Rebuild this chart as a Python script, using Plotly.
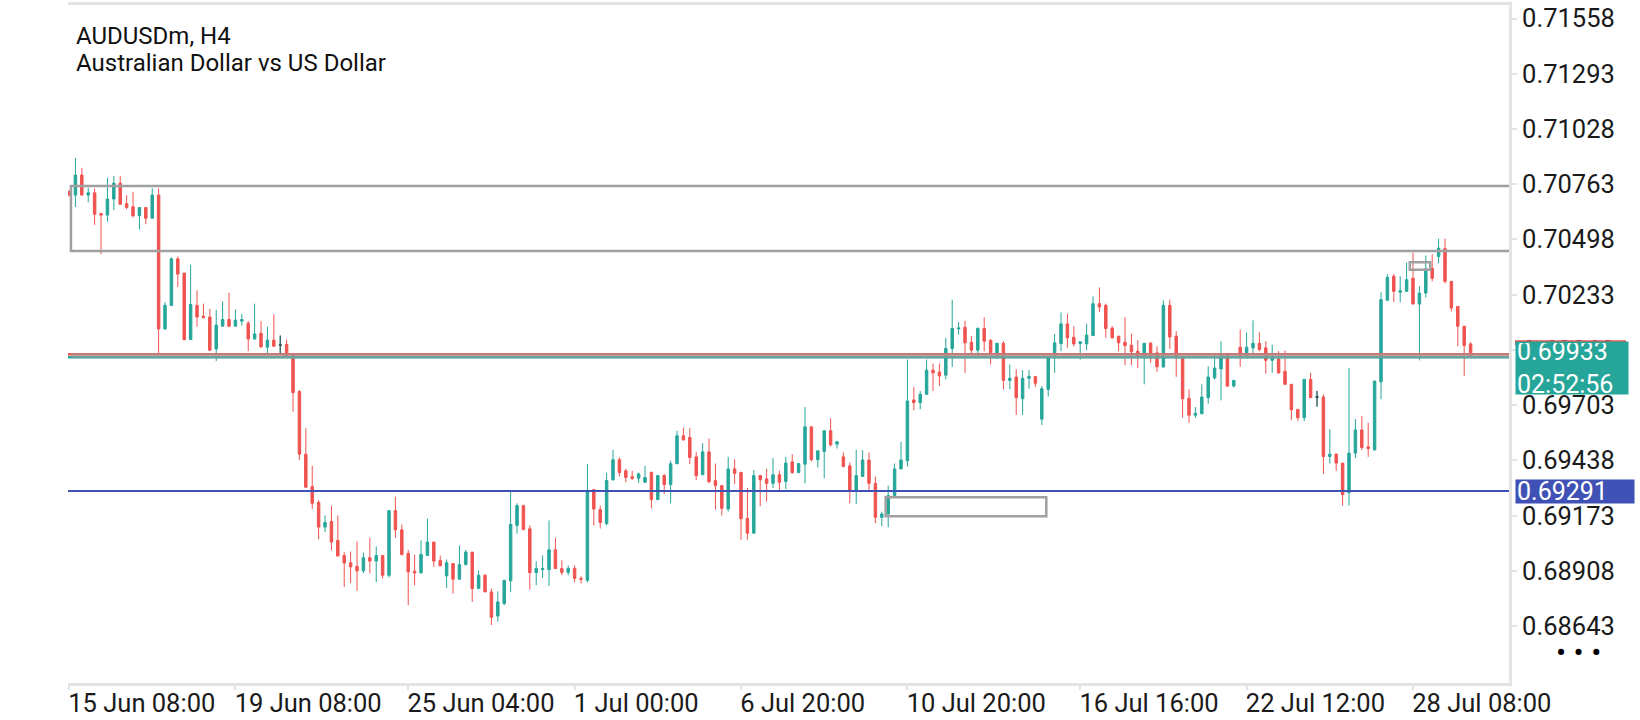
import plotly.graph_objects as go

# AUDUSDm H4 candles, bar 0 = 15 Jun 08:00
opens = [
    0.70727, 0.70711, 0.70807, 0.70711, 0.70722, 0.70623, 0.70615, 0.70692, 0.70768, 0.70670,
    0.70655, 0.70612, 0.70651, 0.70600, 0.70711, 0.70069, 0.70181, 0.70405, 0.70337, 0.70018,
    0.70182, 0.70130, 0.70126, 0.69973, 0.70082, 0.70114, 0.70082, 0.70106, 0.70096, 0.70020,
    0.70048, 0.69981, 0.70015, 0.69991, 0.69994, 0.69941, 0.69768, 0.69468, 0.69312, 0.69236,
    0.69118, 0.69145, 0.69054, 0.68982, 0.68947, 0.68930, 0.68908, 0.68971, 0.68955, 0.68982,
    0.68887, 0.69197, 0.69105, 0.68992, 0.68906, 0.68898, 0.68982, 0.69046, 0.68958, 0.68884,
    0.68943, 0.68868, 0.68938, 0.68998, 0.68823, 0.68887, 0.68807, 0.68691, 0.68751, 0.68860,
    0.69126, 0.69221, 0.69110, 0.68900, 0.68914, 0.68914, 0.69009, 0.68919, 0.68901, 0.68920,
    0.68872, 0.68863, 0.69298, 0.69202, 0.69135, 0.69345, 0.69441, 0.69388, 0.69360, 0.69352,
    0.69333, 0.69380, 0.69250, 0.69365, 0.69322, 0.69422, 0.69556, 0.69548, 0.69455, 0.69369,
    0.69479, 0.69341, 0.69317, 0.69205, 0.69397, 0.69380, 0.69160, 0.69089, 0.69365, 0.69349,
    0.69328, 0.69369, 0.69337, 0.69431, 0.69380, 0.69420, 0.69599, 0.69441, 0.69481, 0.69580,
    0.69516, 0.69455, 0.69412, 0.69290, 0.69361, 0.69440, 0.69328, 0.69165, 0.69181, 0.69269,
    0.69397, 0.69436, 0.69728, 0.69715, 0.69755, 0.69871, 0.69862, 0.69847, 0.69975, 0.70069,
    0.70077, 0.70005, 0.69967, 0.70071, 0.70015, 0.69930, 0.70000, 0.69822, 0.69838, 0.69734,
    0.69832, 0.69841, 0.69636, 0.69779, 0.69938, 0.69999, 0.70093, 0.70029, 0.69999, 0.69997,
    0.70037, 0.70190, 0.70182, 0.70073, 0.70034, 0.70005, 0.69991, 0.69962, 0.69933, 0.70000,
    0.69954, 0.69887, 0.70182, 0.70034, 0.69930, 0.69736, 0.69655, 0.69662, 0.69739, 0.69834,
    0.69877, 0.69949, 0.69795, 0.69981, 0.69930, 0.69978, 0.70000, 0.69978, 0.69918, 0.69925,
    0.69866, 0.69803, 0.69683, 0.69643, 0.69827, 0.69742, 0.69742, 0.69457, 0.69468, 0.69425,
    0.69283, 0.69473, 0.69584, 0.69503, 0.69489, 0.69815, 0.70206, 0.70321, 0.70245, 0.70249,
    0.70312, 0.70188, 0.70241, 0.70360, 0.70416, 0.70454, 0.70297, 0.70177, 0.70082, 0.69997,
]
highs = [
    0.70735, 0.70890, 0.70842, 0.70746, 0.70743, 0.70623, 0.70794, 0.70803, 0.70803, 0.70711,
    0.70727, 0.70651, 0.70651, 0.70743, 0.70743, 0.70197, 0.70412, 0.70416, 0.70337, 0.70377,
    0.70254, 0.70190, 0.70165, 0.70161, 0.70201, 0.70243, 0.70163, 0.70141, 0.70106, 0.70190,
    0.70106, 0.70079, 0.70139, 0.70037, 0.70018, 0.69941, 0.69776, 0.69593, 0.69412, 0.69248,
    0.69174, 0.69221, 0.69174, 0.68998, 0.69001, 0.69049, 0.68995, 0.69067, 0.69025, 0.68982,
    0.69197, 0.69264, 0.69131, 0.69009, 0.68986, 0.69054, 0.69158, 0.69046, 0.68982, 0.68963,
    0.68943, 0.69030, 0.69009, 0.68998, 0.68911, 0.68892, 0.68823, 0.68810, 0.68863, 0.69288,
    0.69232, 0.69226, 0.69126, 0.68954, 0.68982, 0.69150, 0.69067, 0.68958, 0.68934, 0.68934,
    0.68882, 0.69420, 0.69298, 0.69221, 0.69379, 0.69489, 0.69452, 0.69398, 0.69388, 0.69380,
    0.69412, 0.69385, 0.69368, 0.69373, 0.69436, 0.69580, 0.69595, 0.69593, 0.69479, 0.69521,
    0.69543, 0.69423, 0.69317, 0.69455, 0.69444, 0.69384, 0.69306, 0.69392, 0.69369, 0.69397,
    0.69449, 0.69388, 0.69455, 0.69468, 0.69423, 0.69694, 0.69599, 0.69484, 0.69584, 0.69640,
    0.69532, 0.69476, 0.69428, 0.69489, 0.69487, 0.69476, 0.69360, 0.69192, 0.69317, 0.69423,
    0.69527, 0.69922, 0.69790, 0.69771, 0.69922, 0.69903, 0.69903, 0.70026, 0.70209, 0.70102,
    0.70109, 0.70034, 0.70077, 0.70125, 0.70018, 0.70000, 0.70010, 0.69898, 0.69875, 0.69871,
    0.69871, 0.69841, 0.69795, 0.69938, 0.70045, 0.70148, 0.70142, 0.70082, 0.70007, 0.70094,
    0.70225, 0.70268, 0.70190, 0.70082, 0.70034, 0.70125, 0.70047, 0.70015, 0.70000, 0.70007,
    0.69986, 0.70206, 0.70209, 0.70058, 0.69930, 0.69779, 0.69694, 0.69803, 0.69890, 0.69951,
    0.70010, 0.69954, 0.69822, 0.70066, 0.70053, 0.70110, 0.70053, 0.70010, 0.69994, 0.69962,
    0.69965, 0.69803, 0.69683, 0.69827, 0.69858, 0.69771, 0.69755, 0.69588, 0.69471, 0.69425,
    0.69882, 0.69636, 0.69651, 0.69619, 0.69819, 0.70245, 0.70332, 0.70333, 0.70321, 0.70387,
    0.70435, 0.70273, 0.70421, 0.70427, 0.70501, 0.70502, 0.70297, 0.70177, 0.70082, 0.70005,
]
lows = [
    0.70705, 0.70654, 0.70711, 0.70676, 0.70568, 0.70428, 0.70584, 0.70639, 0.70667, 0.70643,
    0.70603, 0.70547, 0.70571, 0.70600, 0.69946, 0.70064, 0.70181, 0.70270, 0.70013, 0.70018,
    0.70080, 0.70122, 0.69962, 0.69915, 0.70082, 0.70077, 0.70082, 0.70085, 0.69962, 0.70020,
    0.69978, 0.69946, 0.69986, 0.69946, 0.69934, 0.69672, 0.69440, 0.69309, 0.69205, 0.69060,
    0.69094, 0.69006, 0.68979, 0.68831, 0.68850, 0.68812, 0.68898, 0.68895, 0.68855, 0.68871,
    0.68876, 0.69067, 0.68981, 0.68743, 0.68839, 0.68898, 0.68982, 0.68927, 0.68932, 0.68826,
    0.68799, 0.68868, 0.68935, 0.68759, 0.68823, 0.68807, 0.68648, 0.68664, 0.68743, 0.68807,
    0.69086, 0.69102, 0.68818, 0.68839, 0.68874, 0.68836, 0.68919, 0.68887, 0.68887, 0.68853,
    0.68848, 0.68853, 0.69126, 0.69111, 0.69126, 0.69341, 0.69361, 0.69333, 0.69344, 0.69330,
    0.69330, 0.69208, 0.69248, 0.69277, 0.69232, 0.69422, 0.69532, 0.69420, 0.69344, 0.69369,
    0.69328, 0.69202, 0.69173, 0.69192, 0.69325, 0.69057, 0.69057, 0.69086, 0.69218, 0.69240,
    0.69306, 0.69293, 0.69301, 0.69373, 0.69376, 0.69328, 0.69433, 0.69404, 0.69352, 0.69505,
    0.69495, 0.69404, 0.69232, 0.69229, 0.69360, 0.69293, 0.69137, 0.69122, 0.69117, 0.69269,
    0.69397, 0.69408, 0.69678, 0.69683, 0.69755, 0.69771, 0.69795, 0.69827, 0.69886, 0.70042,
    0.69858, 0.69946, 0.69938, 0.69962, 0.69898, 0.69927, 0.69779, 0.69779, 0.69656, 0.69656,
    0.69782, 0.69791, 0.69608, 0.69744, 0.69858, 0.69962, 0.69978, 0.69986, 0.69922, 0.69967,
    0.70037, 0.70150, 0.70026, 0.70023, 0.69962, 0.69895, 0.69895, 0.69882, 0.69803, 0.69906,
    0.69863, 0.69882, 0.69973, 0.69839, 0.69643, 0.69619, 0.69643, 0.69659, 0.69710, 0.69825,
    0.69726, 0.69790, 0.69787, 0.69887, 0.69930, 0.69946, 0.69962, 0.69854, 0.69858, 0.69854,
    0.69803, 0.69631, 0.69627, 0.69627, 0.69739, 0.69696, 0.69373, 0.69423, 0.69388, 0.69221,
    0.69221, 0.69449, 0.69487, 0.69455, 0.69484, 0.69731, 0.70206, 0.70198, 0.70196, 0.70249,
    0.70188, 0.69918, 0.70220, 0.70297, 0.70383, 0.70287, 0.70153, 0.69986, 0.69843, 0.69930,
]
closes = [
    0.70711, 0.70807, 0.70711, 0.70722, 0.70619, 0.70615, 0.70692, 0.70768, 0.70667, 0.70652,
    0.70612, 0.70651, 0.70600, 0.70711, 0.70069, 0.70182, 0.70405, 0.70332, 0.70018, 0.70186,
    0.70126, 0.70122, 0.69967, 0.70087, 0.70114, 0.70082, 0.70111, 0.70114, 0.70021, 0.70045,
    0.69983, 0.70015, 0.69986, 0.69991, 0.69938, 0.69763, 0.69468, 0.69309, 0.69232, 0.69118,
    0.69140, 0.69046, 0.68979, 0.68946, 0.68927, 0.68908, 0.68971, 0.68955, 0.68982, 0.68887,
    0.69197, 0.69105, 0.68987, 0.68903, 0.68898, 0.68987, 0.69046, 0.68955, 0.68932, 0.68947,
    0.68868, 0.68938, 0.68998, 0.68823, 0.68887, 0.68807, 0.68686, 0.68759, 0.68863, 0.69131,
    0.69221, 0.69107, 0.68900, 0.68919, 0.68919, 0.69009, 0.68919, 0.68901, 0.68920, 0.68872,
    0.68868, 0.69288, 0.69205, 0.69140, 0.69341, 0.69441, 0.69380, 0.69356, 0.69352, 0.69373,
    0.69356, 0.69250, 0.69365, 0.69322, 0.69422, 0.69556, 0.69537, 0.69452, 0.69365, 0.69479,
    0.69336, 0.69317, 0.69208, 0.69397, 0.69376, 0.69158, 0.69089, 0.69365, 0.69345, 0.69328,
    0.69369, 0.69333, 0.69425, 0.69380, 0.69423, 0.69599, 0.69441, 0.69484, 0.69580, 0.69513,
    0.69527, 0.69409, 0.69290, 0.69365, 0.69440, 0.69328, 0.69165, 0.69181, 0.69269, 0.69397,
    0.69440, 0.69723, 0.69715, 0.69755, 0.69871, 0.69858, 0.69843, 0.69975, 0.70071, 0.70073,
    0.70002, 0.69967, 0.70071, 0.70010, 0.69954, 0.70000, 0.69822, 0.69832, 0.69739, 0.69832,
    0.69841, 0.69808, 0.69782, 0.69938, 0.70002, 0.70093, 0.70026, 0.69997, 0.70007, 0.70039,
    0.70190, 0.70174, 0.70071, 0.70026, 0.70002, 0.69989, 0.69959, 0.69933, 0.70000, 0.69930,
    0.69887, 0.70182, 0.70030, 0.69930, 0.69734, 0.69655, 0.69664, 0.69742, 0.69838, 0.69881,
    0.69949, 0.69795, 0.69822, 0.69933, 0.69981, 0.70000, 0.69970, 0.69918, 0.69927, 0.69858,
    0.69803, 0.69681, 0.69643, 0.69827, 0.69739, 0.69742, 0.69457, 0.69468, 0.69425, 0.69274,
    0.69473, 0.69584, 0.69500, 0.69495, 0.69819, 0.70209, 0.70316, 0.70249, 0.70252, 0.70305,
    0.70188, 0.70241, 0.70357, 0.70312, 0.70456, 0.70297, 0.70169, 0.70082, 0.69989, 0.69933,
]
bars = list(range(len(opens)))

tick_bars = [0, 26, 53, 79, 105, 131, 158, 184, 210]
tick_text = ["15 Jun 08:00", "19 Jun 08:00", "25 Jun 04:00", "1 Jul 00:00", "6 Jul 20:00",
             "10 Jul 20:00", "16 Jul 16:00", "22 Jul 12:00", "28 Jul 08:00"]
price_ticks = [0.71558, 0.71293, 0.71028, 0.70763, 0.70498, 0.70233, 0.69968,
               0.69703, 0.69438, 0.69173, 0.68908, 0.68643]

# objects drawn on the chart (bar index, price)
zone_start = 0.3
zone_top = 0.70755
zone_bottom = 0.70443
level_gray = 0.69940
level_blue = 0.69291
bid = 0.69933
ask = 0.69947
boxes = [(127.6, 152.7, 0.69170, 0.69261), (209.5, 212.7, 0.70353, 0.70389)]
countdown = "02:52:56"

GREEN = "#26a69a"
RED = "#ef5350"
BLUE = "#3f51b5"
GRAY = "#a0a0a0"
FRAME = "#e4e4e4"

fig = go.Figure()
fig.add_trace(go.Candlestick(
    x=bars, open=opens, high=highs, low=lows, close=closes,
    increasing=dict(line=dict(color=GREEN, width=1), fillcolor=GREEN),
    decreasing=dict(line=dict(color=RED, width=1), fillcolor=RED),
    whiskerwidth=0, hoverinfo="skip",
))

# dojis are drawn dark like in the terminal
doji = [i for i in bars if abs(opens[i] - closes[i]) < 1e-9]
fig.add_trace(go.Candlestick(
    x=doji, open=[opens[i] for i in doji], high=[highs[i] for i in doji],
    low=[lows[i] for i in doji], close=[closes[i] for i in doji],
    increasing=dict(line=dict(color="#37474f", width=1), fillcolor="#37474f"),
    decreasing=dict(line=dict(color="#37474f", width=1), fillcolor="#37474f"),
    whiskerwidth=0, hoverinfo="skip",
))

shapes = []
shapes.append(dict(type="rect", xref="x", yref="y", x0=zone_start, x1=400,
                   y0=zone_bottom, y1=zone_top, line=dict(color=GRAY, width=2.5)))
for x0, x1, y0, y1 in boxes:
    shapes.append(dict(type="rect", xref="x", yref="y", x0=x0, x1=x1, y0=y0, y1=y1,
                       line=dict(color=GRAY, width=2.5)))
# ask / bid lines with the gray level drawn over them
shapes.append(dict(type="line", xref="paper", yref="y", x0=0, x1=1, y0=ask, y1=ask,
                   line=dict(color=RED, width=2.5)))
shapes.append(dict(type="line", xref="paper", yref="y", x0=0, x1=1, y0=bid, y1=bid,
                   line=dict(color=GREEN, width=2.5)))
shapes.append(dict(type="line", xref="x", yref="y", x0=zone_start, x1=400,
                   y0=level_gray, y1=level_gray, line=dict(color=GRAY, width=5), opacity=0.6))
shapes.append(dict(type="line", xref="paper", yref="y", x0=0, x1=1,
                   y0=level_blue, y1=level_blue, line=dict(color=BLUE, width=2)))
# ask price tag peeking out above the bid tag
shapes.append(dict(type="rect", xref="paper", yref="y", xsizemode="pixel", ysizemode="pixel",
                   xanchor=1, yanchor=bid, x0=6, x1=117, y0=12, y1=17,
                   fillcolor=RED, line=dict(width=0)))

annotations = [
    dict(xref="paper", yref="paper", x=0, y=1, xanchor="left", yanchor="middle",
         xshift=6, yshift=-31, text="AUDUSDm, H4", showarrow=False,
         font=dict(size=24, color="#111111")),
    dict(xref="paper", yref="paper", x=0, y=1, xanchor="left", yanchor="middle",
         xshift=6, yshift=-58, text="Australian Dollar vs US Dollar", showarrow=False,
         font=dict(size=24, color="#111111")),
    dict(xref="paper", yref="y", x=1, y=bid, xanchor="left", yanchor="top",
         xshift=6, yshift=16, text=f"{bid:.5f}<br>{countdown}", showarrow=False,
         bgcolor=GREEN, width=110, height=50, borderpad=1, align="left",
         font=dict(size=25, color="white")),
    dict(xref="paper", yref="y", x=1, y=level_blue, xanchor="left", yanchor="middle",
         xshift=6, text=f"{level_blue:.5f}", showarrow=False, bgcolor=BLUE,
         width=116, height=21, borderpad=1, align="left", font=dict(size=25, color="white")),
    dict(xref="paper", yref="paper", x=1.0479, y=0.0455, xanchor="center", yanchor="middle",
         text="\u2022 \u2022 \u2022", showarrow=False, font=dict(size=30, color="black")),
]

fig.update_layout(
    width=1640, height=720,
    margin=dict(l=68, r=131, t=2, b=37),
    paper_bgcolor="white", plot_bgcolor="white",
    showlegend=False, boxgap=0.45,
    font=dict(family="Roboto", size=25.5, color="#1a1a1a"),
    shapes=shapes, annotations=annotations,
    xaxis=dict(range=[-0.16, 225], rangeslider=dict(visible=False), showgrid=False,
               zeroline=False, tickmode="array", tickvals=tick_bars, ticktext=tick_text,
               ticks="outside", ticklen=4, tickwidth=2, tickcolor=FRAME,
               showline=True, linecolor=FRAME, linewidth=2.5, mirror=True,
               ticklabelposition="outside right", ticklabelstandoff=-4, ticklabelshift=-3),
    yaxis=dict(side="right", range=[0.68370, 0.71623], showgrid=False, zeroline=False,
               tickmode="array", tickvals=price_ticks,
               ticktext=[f"{v:.5f}" for v in price_ticks],
               ticks="outside", ticklen=5, tickwidth=2, tickcolor=FRAME,
               showline=True, linecolor=FRAME, linewidth=3, ticklabelstandoff=0),
)

# page body has an 8px default margin; drop it so the chart sits at the window corner
fig.write_html("out.html", config={"displayModeBar": False},
               post_script="document.body.style.margin='0px';")
